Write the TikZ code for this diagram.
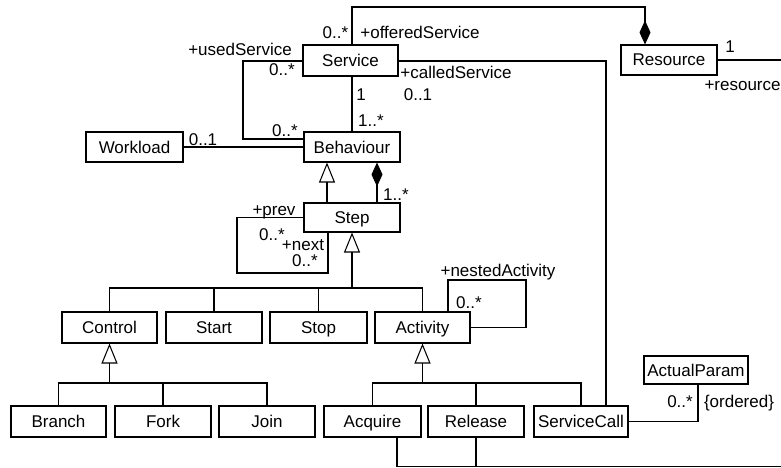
\documentclass[tikz,border=0pt]{standalone}
\usepackage{fontspec}
\setmainfont{Liberation Sans}
\usetikzlibrary{arrows.meta}
\begin{document}
\begin{tikzpicture}[x=1pt,y=-1pt, line width=1.05pt,
  every node/.style={font=\fontsize{17}{20}\selectfont},
  cls/.style={draw, minimum width=96pt, minimum height=30pt, inner sep=0pt,
    text height=12pt, text depth=0pt},
  lbl/.style={inner sep=0pt, text height=12pt, text depth=0pt},
  gen/.style={-{Triangle[open,length=20pt,width=16pt]}},
  comp/.style={-{Diamond[length=24pt,width=11pt]}}]
\useasboundingbox (0,0) rectangle (781,468);

% classes
\node[cls, minimum width=95pt, minimum height=31pt] (service) at (350.5,60.5) {Service};
\node[cls] (resource) at (669,60) {Resource};
\node[cls] (behav) at (352,147) {Behaviour};
\node[cls, minimum width=97pt] (workload) at (134.5,147) {Workload};
\node[cls, minimum height=29pt] (step) at (352,217.5) {Step};
\node[cls, minimum width=95pt, minimum height=31pt] (control) at (109.5,327.5) {Control};
\node[cls, minimum height=31pt] (start) at (214,327.5) {Start};
\node[cls, minimum width=97pt, minimum height=31pt] (stop) at (318.5,327.5) {Stop};
\node[cls, minimum width=95pt, minimum height=31pt] (activity) at (422.5,327.5) {Activity};
\node[cls, minimum width=95pt, minimum height=31pt] (branch) at (58.5,421.5) {Branch};
\node[cls, minimum height=31pt] (fork) at (163,421.5) {Fork};
\node[cls, minimum height=31pt] (join) at (267,421.5) {Join};
\node[cls, minimum width=97pt, minimum height=31pt] (acquire) at (372.5,421.5) {Acquire};
\node[cls, minimum height=31pt] (release) at (476,421.5) {Release};
\node[cls, minimum width=94pt, minimum height=31pt] (servicecall) at (581,421.5) {ServiceCall};
\node[cls, minimum width=104pt, minimum height=28pt] (actual) at (696,370) {ActualParam};

% bend points
\coordinate (otop) at (645,7);
\coordinate (rend) at (781,60);
\coordinate (cs) at (606,61);
\coordinate (u1) at (243,61);
\coordinate (u2) at (243,139);
\coordinate (s1) at (237,217.5);
\coordinate (s2) at (237,273);
\coordinate (s3) at (328,273);
\coordinate (bus1) at (352,288);
\coordinate (a2) at (526,280);
\coordinate (cbus) at (110,383);
\coordinate (p1) at (698,421.5);
\coordinate (b2) at (781,466.5);

% Service -- Resource (offeredService)
\draw[comp] ([xshift=1.5pt]service.north) |- (otop) -- (otop |- resource.north);
\draw (resource.east) -- (rend);
% calledService
\draw (service.east |- cs) -- (cs) -- (cs |- servicecall.north);
% usedService
\draw (service.west |- u1) -- (u1) -- (u2) -- (u2 -| behav.west);
% Service -- Behaviour
\draw (behav.north) -- (behav.north |- service.south);
% Workload -- Behaviour
\draw (workload.east) -- (behav.west);
% Step is a Behaviour part
\draw[gen] ([xshift=-25pt]step.north) -- ([xshift=-25pt]behav.south);
\draw[comp] ([xshift=25pt]step.north) -- ([xshift=25pt]behav.south);
% prev / next
\draw (step.west) -- (s1) -- (s2) -- (s3) -- (s3 |- step.south);
% Step subclasses
\draw[gen] (bus1) -- (step.south);
\draw (control.north) |- (activity.north |- bus1) -- (activity.north);
\draw (start.north) -- (start.north |- bus1);
\draw (stop.north) -- (stop.north |- bus1);
% nestedActivity
\draw ([xshift=25.5pt]activity.north) |- (a2) |- (activity.east);
% Control subclasses
\draw[gen] (control.south |- cbus) -- (control.south);
\draw (branch.north) |- (join.north |- cbus) -- (join.north);
\draw (fork.north) -- (fork.north |- cbus);
% Activity subclasses
\draw[gen] (activity.south |- cbus) -- (activity.south);
\draw (acquire.north) |- (servicecall.north |- cbus) -- (servicecall.north);
\draw (release.north) -- (release.north |- cbus);
% ServiceCall -- ActualParam
\draw (servicecall.east) -- (p1) -- (p1 |- actual.south);
% Acquire / Release -- resource
\draw ([xshift=24.5pt]acquire.south) |- (b2);
\draw (release.south) -- (release.south |- b2);

% role names and multiplicities
\node[lbl] (l1) at (335.5,33) {0..*};
\node[lbl] (l2) at (420,33) {+offeredService};
\node[lbl] (l3) at (240,50) {+usedService};
\node[lbl] (l4) at (282,70) {0..*};
\node[lbl] (l5) at (456,73) {+calledService};
\node[lbl] (l6) at (418,95) {0..1};
\node[lbl] (l7) at (361,95) {1};
\node[lbl] (l8) at (371,121) {1..*};
\node[lbl] (l9) at (285,130) {0..*};
\node[lbl] (l10) at (203,140) {0..1};
\node[lbl] (l11) at (396,194) {1..*};
\node[lbl] (l12) at (274,209) {+prev};
\node[lbl] (l13) at (272,234) {0..*};
\node[lbl] (l14) at (303,244) {+next};
\node[lbl] (l15) at (305,260) {0..*};
\node[lbl] (l16) at (498,270) {+nestedActivity};
\node[lbl] (l17) at (469,302) {0..*};
\node[lbl] (l18) at (680,401) {0..*};
\node[lbl] (l19) at (739,401) {\{ordered\}};
\node[lbl] (l20) at (730,47) {1};
\node[lbl, anchor=west] (l21) at (704,85) {+resource};
\end{tikzpicture}
\end{document}
